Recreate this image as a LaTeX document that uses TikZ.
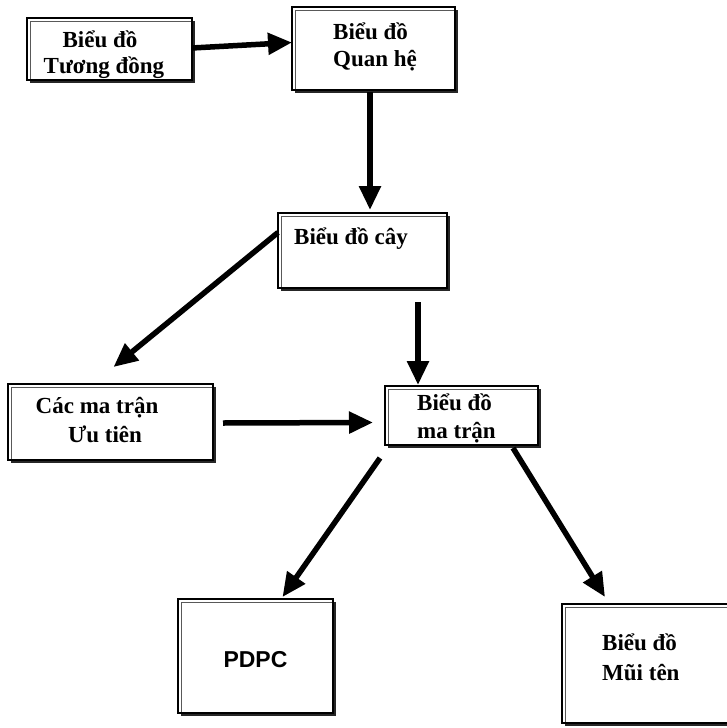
\documentclass[tikz,border=0pt]{standalone}
\usepackage{fontspec}
\setmainfont{Liberation Serif}
\newfontfamily\arialf{Liberation Sans}
\usetikzlibrary{arrows.meta}
\begin{document}
\begin{tikzpicture}[x=1pt,y=-1pt,
  box/.style={draw=black, line width=1.2pt, fill=white,
    inner sep=0pt, outer sep=0pt,
    preaction={fill=black!85, draw=none, transform canvas={shift={(3pt,-3pt)}}}},
  innerline/.style={draw=black!65, line width=0.7pt},
  lbl/.style={inner sep=0pt, font=\fontsize{23}{26}\selectfont\bfseries},
  conn/.style={line width=5.5pt, -{Triangle[length=24pt,width=21pt]}}
]
\useasboundingbox (0,0) rectangle (727,728);

\node[box, minimum width=165pt, minimum height=62pt] (b1) at (109.5,49) {};
\node[box, minimum width=163pt, minimum height=83pt] (b2) at (373.5,48.5) {};
\node[box, minimum width=169pt, minimum height=75pt] (b3) at (362.5,250.5) {};
\node[box, minimum width=205pt, minimum height=76pt] (b4) at (110.5,422) {};
\node[box, minimum width=153pt, minimum height=59pt] (b5) at (461.5,415.5) {};
\node[box, minimum width=155pt, minimum height=114pt] (b6) at (255.5,656) {};
\node[box, minimum width=178pt, minimum height=119pt] (b7) at (651,663.5) {};

\foreach \n in {b1,b2,b3,b4,b5,b6,b7}
  \draw[innerline] ([shift={(3pt,1.5pt)}]\n.south west) -- ([shift={(3pt,-3pt)}]\n.north west)
    -- ([shift={(-1.5pt,-3pt)}]\n.north east);

\node[lbl, anchor=base] (t1a) at (100,47) {Biểu đồ};
\node[lbl, anchor=base] (t1b) at (104,73) {Tương đồng};
\node[lbl, anchor=base west] (t2a) at (333,39) {Biểu đồ};
\node[lbl, anchor=base west] (t2b) at (333,66) {Quan hệ};
\node[lbl, anchor=base west] (t3) at (294,244) {Biểu đồ cây};
\node[lbl, anchor=base] (t4a) at (97,413) {Các ma trận};
\node[lbl, anchor=base] (t4b) at (105,442) {Ưu tiên};
\node[lbl, anchor=base west] (t5a) at (417,410) {Biểu đồ};
\node[lbl, anchor=base west] (t5b) at (417,438) {ma trận};
\node[inner sep=0pt, font=\arialf\fontsize{23}{26}\selectfont\bfseries] (t6) at (255.5,660) {PDPC};
\node[lbl, anchor=base west] (t7a) at (602,650) {Biểu đồ};
\node[lbl, anchor=base west] (t7b) at (602,680) {Mũi tên};

\draw[conn] ([yshift=1pt]b1.east) -- ([yshift=6pt]b2.west);
\draw[conn] ([xshift=-3.5pt,yshift=-2pt]b2.south) -- ([xshift=7.5pt,yshift=3pt]b3.north);
\draw[conn] ([yshift=18pt]b3.west) -- ([xshift=3pt,yshift=17pt]b4.north);
\draw[conn] ([xshift=55.5pt,yshift=-14pt]b3.south) -- ([xshift=-43.5pt,yshift=1pt]b5.north);
\draw[conn] ([xshift=10pt,yshift=-1pt]b4.east) -- ([xshift=-12pt,yshift=-7pt]b5.west);
\draw[conn] ([xshift=-81.5pt,yshift=-13pt]b5.south) -- ([xshift=27pt,yshift=2pt]b6.north);
\draw[conn] ([xshift=51.5pt,yshift=-3pt]b5.south) -- ([xshift=-46pt,yshift=7pt]b7.north);
\end{tikzpicture}
\end{document}
